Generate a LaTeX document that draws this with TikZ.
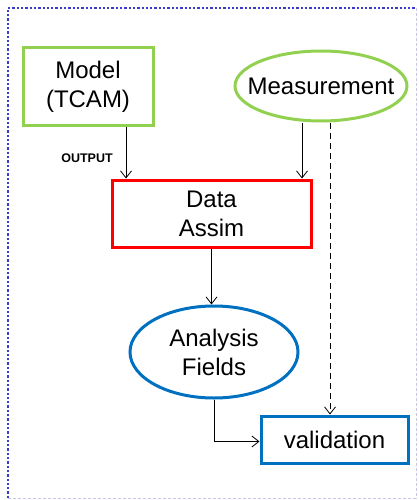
\documentclass[tikz,border=0pt]{standalone}
\usepackage{fontspec}
\setmainfont{Liberation Sans}
\usetikzlibrary{shapes.geometric,arrows.meta}

\definecolor{lgreen}{RGB}{146,208,80}
\definecolor{mblue}{RGB}{0,112,192}
\definecolor{frameblue}{RGB}{60,60,200}
\definecolor{framegrey}{RGB}{200,200,230}

\begin{document}
\begin{tikzpicture}[x=1pt,y=-1pt,
	box/.style={shape=rectangle,line width=3pt,inner sep=0pt,align=center},
	oval/.style={shape=ellipse,line width=3pt,inner sep=-40pt,align=center},
	link/.style={line width=0.8pt,-{Straight Barb[length=7pt,width=11pt]}}]
	\useasboundingbox (0,0) rectangle (418,500);
	\fontsize{24}{29}\selectfont

	% frame
	\draw[frameblue,line width=2.5pt,dash pattern=on 2.3pt off 2pt] (8,498) -- (8,8) -- (416,8);
	\draw[framegrey,line width=0.7pt,dash pattern=on 3pt off 2pt] (416,8) -- (416,498) -- (8,498);

	\node[box,draw=lgreen,minimum width=130pt,minimum height=77pt] (model) at (88,86.5)   {Model\\(TCAM)};
	\node[oval,draw=lgreen,minimum width=172pt,minimum height=70pt] (meas) at (321,86)    {Measurement};
	\node[box,draw=red,minimum width=199pt,minimum height=67pt] (assim) at (211.5,213.5)   {Data\\Assim};
	\node[oval,draw=mblue,minimum width=168pt,minimum height=92pt] (anal) at (214,352)     {Analysis\\Fields};
	\node[box,draw=mblue,minimum width=147pt,minimum height=47pt] (valid) at (334.5,439.5) {validation};

	\node[font=\fontsize{12.5}{14}\selectfont\bfseries] (out) at (87,158) {OUTPUT};

	\draw[link] ([xshift=38pt]model.south) -- ([xshift=38pt]model.south |- assim.north);
	\draw[link] ([xshift=-19pt]meas.south) -- ([xshift=-19pt]meas.south |- assim.north);
	\draw[link,dash pattern=on 6pt off 4pt] ([xshift=9pt]meas.south) -- ([xshift=9pt]meas.south |- valid.north);
	\draw[link] (assim.south) -- (assim.south |- anal.north);
	\draw[link] (anal.south) |- ([yshift=-2pt]valid.west);
\end{tikzpicture}
\end{document}
